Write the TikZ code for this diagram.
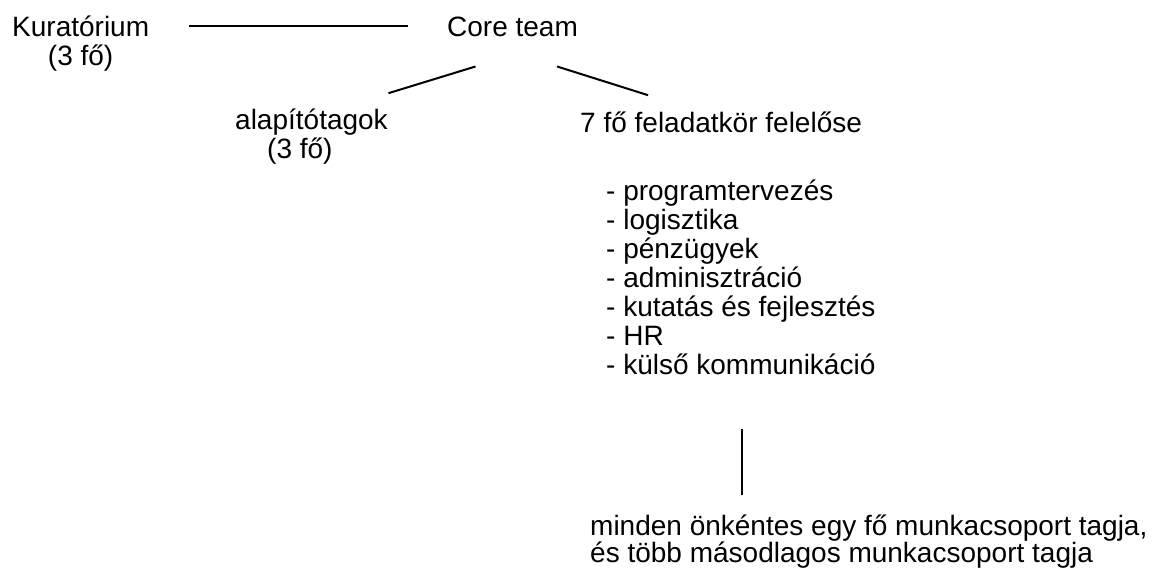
\documentclass[tikz,border=0pt]{standalone}
\usepackage{fontspec}
\setmainfont{Liberation Sans}
\usetikzlibrary{positioning}

\begin{document}
\begin{tikzpicture}[x=1pt,y=1pt]
  % stílusok
  \tikzset{textbox/.style = {inner sep=0pt, anchor=base west, font=\fontsize{28}{29}\selectfont}}
  \tikzset{edge/.style = {draw, line width=2pt}}
  \useasboundingbox (0,0) rectangle (1162,-576);

  % csomópontok
  \node[textbox, align=center] (kur) at (12,-65) {Kuratórium\\(3 fő)};
  \node[textbox] (core) at (447,-36) {Core team};
  \node[textbox, align=left] (alap) at (235,-158) {alapítótagok\\\hspace*{32pt}(3 fő)};
  \node[textbox] (felelos) at (580,-132) {7 fő feladatkör felelőse};
  \node[textbox, align=left] (lista) at (606,-374) {- programtervezés\\- logisztika\\- pénzügyek\\- adminisztráció\\- kutatás és fejlesztés\\- HR\\- külső kommunikáció};
  \node[textbox, align=left, font=\fontsize{28}{27}\selectfont] (tagok) at (590,-562) {minden önkéntes egy fő munkacsoport tagja,\\és több másodlagos munkacsoport tagja};
  \coordinate (vonal) at (742,0);

  % vonalak
  \draw[edge, shorten <=40pt, shorten >=39pt] (kur.east |- core.center) -- (core.west);
  \draw[edge] ([shift={(-37,-30)}]core.south) -- ([shift={(77,15)}]alap.north);
  \draw[edge] ([shift={(44.5,-30)}]core.south) -- ([shift={(-73,16)}]felelos.north);
  \draw[edge, shorten <=55pt, shorten >=19pt] (lista.south -| vonal) -- (tagok.north -| vonal);
\end{tikzpicture}
\end{document}
